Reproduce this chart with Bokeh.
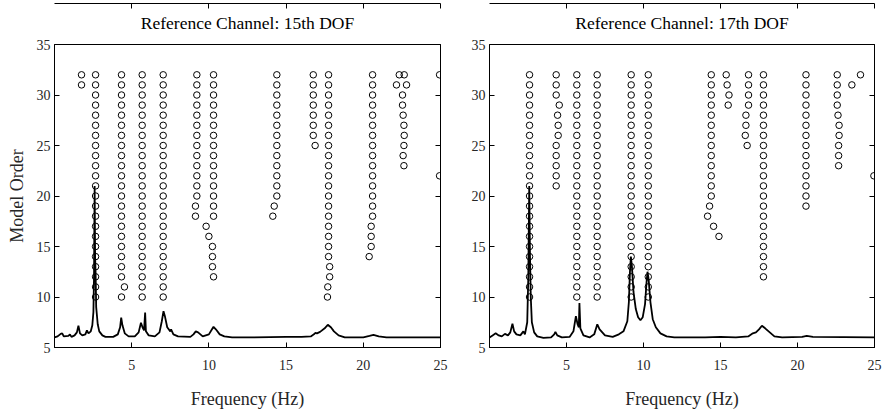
from bokeh.plotting import figure
from bokeh.layouts import row
from bokeh.models import LinearAxis, FixedTicker, Title
from bokeh.embed import file_html
from bokeh.resources import INLINE

# ---------------- data ----------------
x_ticks = [0, 5, 10, 15, 20, 25]
y_ticks = [5, 10, 15, 20, 25, 30, 35]
titles = ["Reference Channel: 15th DOF", "Reference Channel: 17th DOF"]
x_label = "Frequency (Hz)"
y_label = "Model Order"

# stable-pole columns: (frequency, lowest order, highest order)
cols_15 = [(1.75, 31, 32), (2.66, 10, 32), (4.34, 12, 32), (5.68, 10, 32),
           (7.04, 10, 32), (9.22, 20, 32), (10.30, 18, 32), (14.40, 20, 32),
           (16.76, 26, 32), (17.75, 14, 32), (20.60, 18, 32)]
# individual poles (frequency, order)
extra_15_f = [4.34, 4.53, 9.13, 9.13, 9.82, 10.0, 10.23, 10.23, 10.23, 10.30,
              14.23, 14.14, 16.88, 17.82, 17.82, 17.70, 17.68,
              20.51, 20.51, 20.51, 20.38,
              22.33, 22.65, 22.15, 22.80, 22.54, 22.54, 22.58, 22.63, 22.65, 22.63, 22.58, 22.63,
              24.94, 24.94]
extra_15_o = [10, 11, 19, 18, 17, 16, 15, 14, 13, 12,
              19, 18, 25, 13, 12, 11, 10,
              17, 16, 15, 14,
              32, 32, 31, 31, 30, 29, 28, 27, 26, 25, 24, 23,
              32, 22]

cols_17 = [(2.60, 10, 32), (4.33, 30, 32), (4.33, 21, 25), (5.67, 10, 32),
           (6.99, 10, 32), (9.20, 10, 32), (10.31, 10, 32), (14.40, 20, 32),
           (16.82, 29, 32), (17.79, 12, 32), (20.55, 19, 32), (22.58, 29, 32)]
extra_17_f = [4.53, 4.42, 4.46, 4.46,
              14.29, 14.16, 14.55, 14.90,
              15.37, 15.43, 15.55, 15.50,
              16.65, 16.65, 16.61, 16.73,
              22.63, 22.70, 22.70, 22.67, 22.67, 22.67,
              23.53, 24.09, 24.96]
extra_17_o = [29, 28, 27, 26,
              19, 18, 17, 16,
              32, 31, 30, 29,
              28, 27, 26, 25,
              28, 27, 26, 25, 24, 23,
              31, 32, 22]

# spectrum (scaled into the order axis)
spec_15_f = [0.0, 0.2, 0.4, 0.5, 0.6, 0.9, 1.0, 1.1, 1.3, 1.45, 1.55, 1.65, 1.8, 2.0,
             2.1, 2.2, 2.35, 2.45, 2.52, 2.56, 2.6, 2.63, 2.66, 2.7, 2.8, 2.9, 3.1,
             3.3, 3.8, 4.1, 4.25, 4.32, 4.4, 4.55, 4.8, 5.2, 5.45, 5.6, 5.7, 5.8,
             5.87, 5.92, 6.1, 6.5, 6.8, 6.95, 7.06, 7.15, 7.3, 7.5, 7.55, 7.7, 8.0,
             8.8, 9.0, 9.15, 9.3, 9.6, 10.0, 10.2, 10.3, 10.45, 10.7, 11.0, 11.5,
             12.5, 15.0, 16.0, 16.6, 16.8, 16.9, 17.0, 17.2, 17.5, 17.7, 17.9, 18.1,
             18.4, 18.8, 20.0, 20.4, 20.66, 21.0, 21.5, 25.0]
spec_15_v = [6.0, 6.1, 6.35, 6.4, 6.1, 6.15, 6.3, 6.05, 6.2, 6.5, 7.15, 6.4, 6.2, 6.3,
             6.7, 6.4, 6.6, 7.2, 8.5, 12.0, 21.0, 14.0, 12.5, 9.0, 7.3, 6.6, 6.2,
             6.05, 6.05, 6.3, 7.0, 7.95, 7.2, 6.4, 6.1, 6.1, 6.5, 7.45, 7.0, 6.7,
             8.45, 6.6, 6.2, 6.1, 6.5, 7.6, 8.6, 8.1, 7.0, 6.6, 6.8, 6.3, 6.1,
             6.05, 6.3, 6.6, 6.5, 6.1, 6.3, 6.8, 7.05, 6.8, 6.3, 6.1, 6.0,
             6.0, 6.05, 6.05, 6.1, 6.3, 6.45, 6.4, 6.55, 6.9, 7.25, 7.0, 6.6,
             6.2, 6.0, 6.0, 6.15, 6.25, 6.1, 6.0, 6.0]

spec_17_f = [0.0, 0.2, 0.4, 0.6, 0.8, 1.0, 1.2, 1.35, 1.49, 1.6, 1.75, 2.0, 2.2, 2.3,
             2.45, 2.52, 2.58, 2.63, 2.68, 2.75, 2.9, 3.1, 3.5, 4.0, 4.2, 4.28, 4.4,
             4.7, 5.2, 5.45, 5.61, 5.72, 5.8, 5.84, 5.9, 6.1, 6.5, 6.8, 7.0, 7.15,
             7.5, 8.0, 8.4, 8.7, 8.95, 9.05, 9.12, 9.18, 9.25, 9.35, 9.5, 9.65, 9.8,
             9.95, 10.1, 10.2, 10.26, 10.33, 10.45, 10.6, 10.8, 11.1, 11.5, 12.0,
             14.0, 15.0, 16.0, 16.8, 17.1, 17.3, 17.5, 17.69, 17.9, 18.2, 18.5, 19.0,
             20.3, 20.6, 21.0, 25.0]
spec_17_v = [6.0, 6.2, 6.4, 6.2, 6.1, 6.35, 6.2, 6.5, 7.35, 6.6, 6.3, 6.2, 6.6, 6.3,
             7.5, 12.0, 21.0, 14.0, 10.0, 7.5, 6.5, 6.1, 5.95, 6.0, 6.3, 6.55, 6.2,
             6.0, 6.05, 6.6, 8.1, 7.3, 7.0, 9.4, 6.9, 6.2, 6.0, 6.3, 7.3, 6.8,
             6.2, 6.05, 6.3, 6.6, 7.6, 9.5, 12.5, 14.0, 13.0, 10.5, 8.8, 8.0, 7.7,
             8.0, 9.3, 11.5, 12.5, 11.8, 9.5, 7.8, 7.0, 6.4, 6.1, 6.0,
             6.0, 6.05, 6.0, 6.1, 6.4, 6.5, 6.8, 7.15, 6.9, 6.5, 6.1, 6.0,
             6.05, 6.15, 6.05, 6.0]

FONT = "Liberation Serif"
TXT = "#262626"


def make_panel(title, cols, ef, eo, sf, sv, left_border, right_border, frame_w, show_ylabel):
    p = figure(frame_width=frame_w, frame_height=303,
               x_range=(0, 25), y_range=(5, 35),
               output_backend="svg", toolbar_location=None,
               min_border_left=left_border, min_border_right=right_border,
               min_border_top=44, min_border_bottom=62,
               x_axis_type=None, y_axis_type=None)
    p.grid.visible = False
    p.outline_line_color = "black"
    p.outline_line_width = 1
    p.background_fill_color = "white"
    p.border_fill_color = "white"

    t = Title(text=title, align="center", vertical_align="top",
              text_font=FONT, text_font_size="17.5px", text_line_height=1.0,
              text_font_style="normal", text_color="black", standoff=19)
    p.add_layout(t, "above")

    def style(ax, labels=True):
        ticks = x_ticks if ax.dimension == 0 else y_ticks
        ax.ticker = FixedTicker(ticks=ticks)
        ax.major_tick_in = 5
        ax.major_tick_out = 0
        ax.minor_tick_in = 0
        ax.minor_tick_out = 0
        ax.axis_line_color = "black"
        ax.major_tick_line_color = "black"
        ax.major_label_text_font = FONT
        ax.major_label_text_color = TXT
        ax.major_label_text_font_size = "14px"
        if not labels:
            ax.major_label_overrides = {tk: "" for tk in ticks}
            ax.major_label_standoff = 0
        ax.axis_label_text_font = FONT
        ax.axis_label_text_font_size = "18px"
        ax.axis_label_text_font_style = "normal"
        ax.axis_label_text_color = TXT

    xb = LinearAxis(axis_label=x_label)
    style(xb)
    xb.major_label_standoff = 12
    xb.axis_label_standoff = 16
    p.add_layout(xb, "below")

    yl = LinearAxis(axis_label=y_label if show_ylabel else None)
    style(yl)
    yl.major_label_standoff = 4
    yl.axis_label_standoff = 7
    p.add_layout(yl, "left")

    xt = LinearAxis()
    style(xt, labels=False)
    p.add_layout(xt, "above")

    yr = LinearAxis()
    style(yr, labels=False)
    p.add_layout(yr, "right")

    fs, os_ = [], []
    for f, lo, hi in cols:
        for o in range(lo, hi + 1):
            fs.append(f)
            os_.append(o)
    fs += list(ef)
    os_ += list(eo)
    p.scatter(fs, os_, marker="circle", size=6.5, fill_color=None,
              line_color="black", line_width=1)
    p.line(sf, sv, line_color="black", line_width=1.8)
    return p


p1 = make_panel(titles[0], cols_15, extra_15_f, extra_15_o, spec_15_f, spec_15_v,
                54, 10, 386, True)
p2 = make_panel(titles[1], cols_17, extra_17_f, extra_17_o, spec_17_f, spec_17_v,
                39, 8, 385, False)

layout = row(p1, p2)
open("out.html", "w").write(file_html(layout, INLINE))
